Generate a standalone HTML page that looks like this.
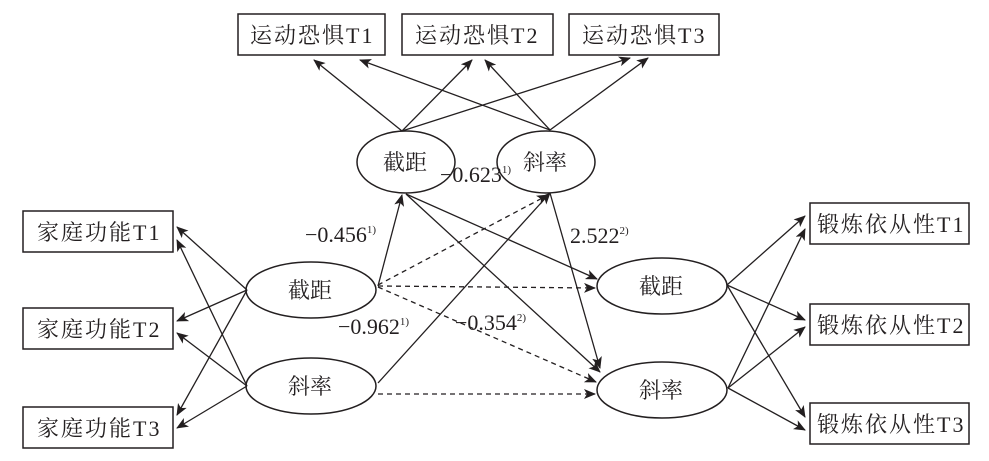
<!DOCTYPE html>
<html><head><meta charset="utf-8"><style>
body{margin:0;background:#fff}
svg{display:block}
text{font-family:"Liberation Serif","Noto Serif CJK SC",serif;fill:#231f20}
</style></head><body>
<svg width="989" height="461" viewBox="0 0 989 461" xmlns="http://www.w3.org/2000/svg">
<defs>
<marker id="a" viewBox="0 0 12 10" refX="11" refY="5" markerWidth="12" markerHeight="10" markerUnits="userSpaceOnUse" orient="auto">
<path d="M0,0 L12,5 L0,10 L3,5 z" fill="#231f20"/></marker>
</defs>
<g fill="none" stroke="#231f20" stroke-width="1.5">
<rect x="238" y="14" width="147" height="41"/>
<rect x="402" y="14" width="151" height="41"/>
<rect x="569" y="14" width="150" height="41"/>
<rect x="23" y="211" width="150" height="41"/>
<rect x="23" y="308" width="150" height="41"/>
<rect x="23" y="407" width="150" height="41"/>
<rect x="810" y="203" width="159" height="41"/>
<rect x="810" y="304" width="159" height="41"/>
<rect x="810" y="403" width="159" height="41"/>
<ellipse cx="406" cy="162" rx="49" ry="31"/>
<ellipse cx="546" cy="162" rx="49" ry="31"/>
<ellipse cx="311" cy="290" rx="65" ry="28"/>
<ellipse cx="311" cy="386" rx="65" ry="28"/>
<ellipse cx="662" cy="286" rx="65" ry="28"/>
<ellipse cx="662" cy="390" rx="65" ry="28"/>
</g>
<g stroke="#231f20" stroke-width="1.3" fill="none" marker-end="url(#a)">
<line x1="402" y1="131" x2="314" y2="60"/>
<line x1="402" y1="131" x2="472" y2="60"/>
<line x1="402" y1="131" x2="630" y2="58"/>
<line x1="550" y1="130" x2="360" y2="60"/>
<line x1="550" y1="130" x2="485" y2="60"/>
<line x1="550" y1="130" x2="648" y2="58"/>
<line x1="247" y1="290" x2="177" y2="227"/>
<line x1="247" y1="290" x2="177" y2="321"/>
<line x1="247" y1="290" x2="177" y2="415"/>
<line x1="247" y1="386" x2="177" y2="240"/>
<line x1="247" y1="386" x2="177" y2="333"/>
<line x1="247" y1="386" x2="177" y2="428"/>
<line x1="378" y1="286" x2="402" y2="195"/>
<line x1="378" y1="383" x2="550" y2="193"/>
<line x1="406" y1="194" x2="597" y2="279"/>
<line x1="406" y1="194" x2="600" y2="372"/>
<line x1="550" y1="193" x2="600" y2="368"/>
<line x1="727" y1="285" x2="805" y2="216"/>
<line x1="727" y1="285" x2="805" y2="320"/>
<line x1="727" y1="285" x2="805" y2="417"/>
<line x1="728" y1="388" x2="805" y2="229"/>
<line x1="728" y1="388" x2="805" y2="327"/>
<line x1="728" y1="388" x2="805" y2="430"/>
<g stroke-dasharray="5,4">
<line x1="378" y1="285" x2="548" y2="195"/>
<line x1="378" y1="286" x2="595" y2="288"/>
<line x1="378" y1="287" x2="596" y2="382"/>
<line x1="378" y1="394" x2="595" y2="394"/>
</g>
</g>
<g font-size="22" letter-spacing="2">
<text x="250" y="43">运动恐惧T1</text>
<text x="415" y="43">运动恐惧T2</text>
<text x="582" y="43">运动恐惧T3</text>
<text x="37" y="240">家庭功能T1</text>
<text x="37" y="337">家庭功能T2</text>
<text x="37" y="436">家庭功能T3</text>
<text x="817" y="232">锻炼依从性T1</text>
<text x="817" y="333">锻炼依从性T2</text>
<text x="817" y="432">锻炼依从性T3</text>
</g>
<g font-size="22">
<text x="383" y="170">截距</text>
<text x="523" y="170">斜率</text>
<text x="288" y="298">截距</text>
<text x="288" y="394">斜率</text>
<text x="639" y="294">截距</text>
<text x="639" y="398">斜率</text>
</g>
<g font-size="22">
<text x="305" y="242">−0.456<tspan font-size="11" dy="-9">1)</tspan></text>
<text x="440" y="182">−0.623<tspan font-size="11" dy="-9">1)</tspan></text>
<text x="570" y="243">2.522<tspan font-size="11" dy="-9">2)</tspan></text>
<text x="338" y="334">−0.962<tspan font-size="11" dy="-9">1)</tspan></text>
<text x="455" y="330">−0.354<tspan font-size="11" dy="-9">2)</tspan></text>
</g>
</svg>
</body></html>
